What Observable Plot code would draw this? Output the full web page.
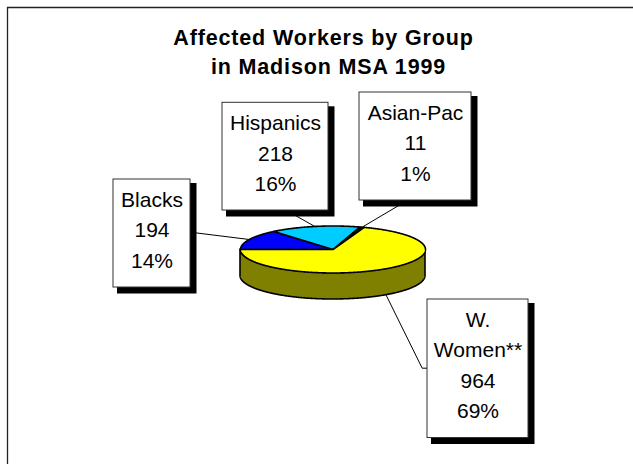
<!DOCTYPE html>
<html>
<head>
<meta charset="utf-8">
<script src="https://cdn.jsdelivr.net/npm/d3@7"></script>
<script src="https://cdn.jsdelivr.net/npm/@observablehq/plot@0.6"></script>
<style>
  html, body { margin: 0; padding: 0; background: #ffffff; }
</style>
</head>
<body>
<div id="chart"></div>
<script>
// ---------------- data ----------------
const groups = ["Blacks", "Hispanics", "Asian-Pac", "W. Women**"];
const counts = [194, 218, 11, 964];
const percentLabels = ["14%", "16%", "1%", "69%"];
const titleLines = ["Affected Workers by Group", "in Madison MSA 1999"];

// ---------------- styles ----------------
const sliceColors = {
  "Blacks": "#0000ff",
  "Hispanics": "#00ccff",
  "Asian-Pac": "#000000",
  "W. Women**": "#ffff00"
};
const darken = c => { const r = d3.rgb(c); return d3.rgb(r.r * 0.5, r.g * 0.5, r.b * 0.5).formatHex(); };
const fontFamily = "'Liberation Sans', Arial, sans-serif";
const labelSize = 21;
const labelLine = 30.3;
const titleSpacing = "0.85px";

// ---------------- layout (pixels) ----------------
const W = 633, H = 464;
const pie = { cx: 332.5, cy: 249, rx: 92.5, ry: 23.5, depth: 26.5 };
const boxes = {
  "Blacks":     { x1: 113, x2: 190, y1: 179,   y2: 287,   lead: [[190, 231.7]] },
  "Hispanics":  { x1: 222, x2: 328, y1: 102.3, y2: 210,   lead: [[286, 210]] },
  "Asian-Pac":  { x1: 359, x2: 471, y1: 92,    y2: 200,   lead: [[406.7, 200]] },
  "W. Women**": { x1: 427, x2: 528, y1: 299,   y2: 437.5, lead: [[421.7, 367.7], [427, 367.7]] }
};

// ---------------- geometry from the values ----------------
const arcs = d3.pie().sort(null).startAngle(-Math.PI / 2).endAngle(3 * Math.PI / 2)(counts);
const px = a => pie.cx + pie.rx * Math.sin(a);
const py = a => pie.cy - pie.ry * Math.cos(a);
const steps = (a0, a1) => {
  const n = Math.max(2, Math.ceil(Math.abs(a1 - a0) / (Math.PI / 360)));
  return d3.range(n + 1).map(i => a0 + (a1 - a0) * i / n);
};

const sliceMarks = arcs.map((a, i) => {
  const pts = [{ x: pie.cx, y: pie.cy }, ...steps(a.startAngle, a.endAngle).map(t => ({ x: px(t), y: py(t) }))];
  return Plot.line(pts, {
    x: "x", y: "y", curve: "linear-closed",
    fill: sliceColors[groups[i]], stroke: "black", strokeWidth: 1.6, strokeLinejoin: "round"
  });
});

const sideMarks = arcs.map((a, i) => {
  const s = Math.max(a.startAngle, Math.PI / 2), e = Math.min(a.endAngle, 3 * Math.PI / 2);
  if (e - s <= 0) return null;
  const rows = steps(s, e).map(t => ({ x: px(t), y1: py(t), y2: py(t) + pie.depth }));
  return Plot.areaY(rows, {
    x: "x", y1: "y1", y2: "y2",
    fill: darken(sliceColors[groups[i]]), stroke: "black", strokeWidth: 1.6, strokeLinejoin: "round"
  });
}).filter(Boolean);

const leaderRows = arcs.flatMap((a, i) => {
  const g = groups[i];
  const mid = (a.startAngle + a.endAngle) / 2;
  const ax = px(mid), ay = py(mid) + (Math.cos(mid) < 0 ? pie.depth : 0);
  return [{ group: g, x: ax, y: ay }, ...boxes[g].lead.map(([x, y]) => ({ group: g, x, y }))];
});

const labelTexts = groups.map((g, i) => `${g.replace(" ", "\n")}\n${counts[i]}\n${percentLabels[i]}`);
const labelCount = labelTexts.map(t => t.split("\n").length);

// ---------------- plot ----------------
const chart = Plot.plot({
  width: W, height: H,
  marginLeft: 7, marginTop: 7, marginRight: 0, marginBottom: 0,
  x: { domain: [0, W], range: [0, W], axis: null },
  y: { domain: [0, H], range: [0, H], axis: null },
  style: { background: "#ffffff", fontFamily, overflow: "visible" },
  marks: [
    // outer border (left and top edges visible)
    Plot.ruleX([7], { y1: 7, y2: H, stroke: "#222", strokeWidth: 1.3 }),
    Plot.ruleY([7], { x1: 7, x2: W, stroke: "#222", strokeWidth: 1.3 }),
    // title
    Plot.text([titleLines[0]], {
      frameAnchor: "top", lineAnchor: "bottom", dx: 3, dy: 37.5,
      fontSize: 21.5, fontWeight: "bold", fontFamily, fill: "black"
    }),
    Plot.text([titleLines[1]], {
      frameAnchor: "top", lineAnchor: "bottom", dx: 8, dy: 66.3,
      fontSize: 21.5, fontWeight: "bold", fontFamily, fill: "black"
    }),
    // leader lines
    Plot.line(leaderRows, { x: "x", y: "y", z: "group", stroke: "black", strokeWidth: 1, strokeLinejoin: "miter" }),
    // pie: side then top
    ...sideMarks,
    ...sliceMarks,
    // label boxes with shadows
    Plot.rect(groups, {
      x1: g => boxes[g].x1 + 4, x2: g => boxes[g].x2 + 6.5,
      y1: g => boxes[g].y1 + 4, y2: g => boxes[g].y2 + 6.5,
      fill: "black"
    }),
    Plot.rect(groups, {
      x1: g => boxes[g].x1, x2: g => boxes[g].x2,
      y1: g => boxes[g].y1, y2: g => boxes[g].y2,
      fill: "white", stroke: "#333", strokeWidth: 1
    }),
    Plot.text(groups, {
      x: g => (boxes[g].x1 + boxes[g].x2) / 2,
      y: (g, i) => boxes[g].y1 + 27.5 + (labelCount[i] - 1) * labelLine,
      text: labelTexts,
      lineAnchor: "bottom", lineHeight: labelLine / labelSize,
      fontSize: labelSize, fontFamily, fill: "black"
    })
  ]
});

// widen the title's letter spacing, as in the reference
chart.querySelectorAll("text").forEach(t => {
  if (titleLines.includes(t.textContent)) t.style.letterSpacing = titleSpacing;
});

document.getElementById("chart").appendChild(chart);
</script>
</body>
</html>
